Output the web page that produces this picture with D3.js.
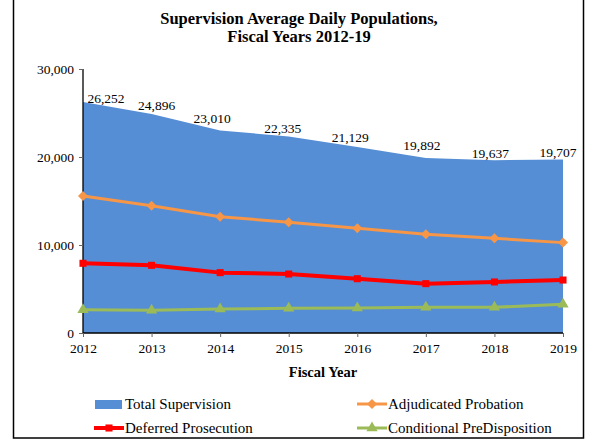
<!DOCTYPE html>
<html><head><meta charset="utf-8">
<script src="https://cdn.jsdelivr.net/npm/d3@7"></script>
<style>body{margin:0;background:#fff}svg{display:block}svg text{font-family:'Liberation Serif','Times New Roman',serif}</style>
</head><body>
<svg id="c" width="589" height="441"></svg>
<script>
const years = [2012, 2013, 2014, 2015, 2016, 2017, 2018, 2019];
const totalSupervision = [26252, 24896, 23010, 22335, 21129, 19892, 19637, 19707];
const adjudicatedProbation = [15570, 14470, 13220, 12580, 11900, 11210, 10760, 10270];
const deferredProsecution = [7920, 7690, 6860, 6700, 6170, 5610, 5800, 6020];
const conditionalPreDisposition = [2650, 2580, 2730, 2800, 2840, 2920, 2920, 3260];
const yTicks = [0, 10000, 20000, 30000];
const titleLines = ["Supervision Average Daily Populations,", "Fiscal Years 2012-19"];

const svg = d3.select("#c");
const font = "'Liberation Serif','Times New Roman',serif";
const x = d3.scaleLinear().domain([2012, 2019]).range([83, 563]);
const y = d3.scaleLinear().domain([0, 30000]).range([333, 69]);

// frame
svg.append("rect").attr("x", 13.5).attr("y", -2).attr("width", 570).attr("height", 440)
  .attr("fill", "none").attr("stroke", "#000").attr("stroke-width", 1.5);

// title
svg.append("text").attr("x", 299).attr("text-anchor", "middle")
  .attr("font-family", font).attr("font-weight", "bold").attr("font-size", 16.5)
  .selectAll("tspan").data(titleLines).join("tspan")
  .attr("x", 299).attr("y", (d, i) => 24 + i * 18).text(d => d);

// area
const area = d3.area().x((d, i) => x(years[i])).y0(y(0)).y1(d => y(d));
svg.append("path").datum(totalSupervision).attr("d", area).attr("fill", "#558ED5");

// axes
const yAxis = svg.append("g").attr("transform", `translate(${x(2012)},0)`)
  .call(d3.axisLeft(y).tickValues(yTicks).tickSize(4).tickPadding(5).tickFormat(d3.format(",")));
const xAxis = svg.append("g").attr("transform", `translate(0,${y(0)})`)
  .call(d3.axisBottom(x).tickValues(years).tickSize(4).tickPadding(6).tickFormat(d3.format("d")));
[yAxis, xAxis].forEach(g => {
  g.attr("font-family", font);
  g.select(".domain").attr("stroke", "#000").attr("stroke-width", 1.3);
  g.selectAll(".tick line").attr("stroke", "#666");
  g.selectAll("text").attr("font-family", font).attr("font-size", 13.5).attr("fill", "#000");
});
yAxis.select(".domain").attr("d", `M0,${y(30000)}V${y(0)}`);
xAxis.select(".domain").attr("d", `M${x(2012)},0H${x(2019)}`);

svg.append("text").attr("x", 323).attr("y", 377).attr("text-anchor", "middle")
  .attr("font-family", font).attr("font-weight", "bold").attr("font-size", 14.5).text("Fiscal Year");

// data labels
const labelDx = [23, 5, -8, -6, -7, -4, -4, -5];
const labelDy = [1, -4, -8, -3, -5, -8, -2, -3];
svg.append("g").selectAll("text").data(totalSupervision).join("text")
  .attr("x", (d, i) => x(years[i]) + labelDx[i])
  .attr("y", (d, i) => y(d) + labelDy[i])
  .attr("text-anchor", "middle").attr("font-family", font).attr("font-size", 13.5)
  .text(d => d3.format(",")(d));

// lines
const line = d3.line().x((d, i) => x(years[i])).y(d => y(d));
const series = [
  {name: "Adjudicated Probation", data: adjudicatedProbation, color: "#F79646", w: 3, marker: "diamond"},
  {name: "Deferred Prosecution", data: deferredProsecution, color: "#FF0000", w: 4, marker: "square"},
  {name: "Conditional PreDisposition", data: conditionalPreDisposition, color: "#9BBB59", w: 3, marker: "triangle"}
];
const symbolFor = m => m === "diamond" ? d3.symbol().type(d3.symbolSquare).size(50)
  : m === "square" ? d3.symbol().type(d3.symbolSquare).size(50)
  : d3.symbol().type(d3.symbolTriangle).size(55);
const rot = m => m === "diamond" ? " rotate(45)" : "";

series.forEach(s => {
  svg.append("path").datum(s.data).attr("d", line).attr("fill", "none")
    .attr("stroke", s.color).attr("stroke-width", s.w).attr("stroke-linejoin", "round");
  svg.append("g").selectAll("path").data(s.data).join("path")
    .attr("d", symbolFor(s.marker))
    .attr("transform", (d, i) => `translate(${x(years[i])},${y(d)})${rot(s.marker)}`)
    .attr("fill", s.color);
});

// legend
const lg = svg.append("g");
lg.append("rect").attr("x", 95).attr("y", 400).attr("width", 27).attr("height", 9).attr("fill", "#558ED5");
lg.append("text").attr("x", 125).attr("y", 409).attr("font-family", font).attr("font-size", 15).text("Total Supervision");
const legendPos = [
  {s: series[0], x: 357, y: 404},
  {s: series[1], x: 94, y: 428},
  {s: series[2], x: 357, y: 428}
];
legendPos.forEach(p => {
  lg.append("line").attr("x1", p.x).attr("x2", p.x + 30).attr("y1", p.y).attr("y2", p.y)
    .attr("stroke", p.s.color).attr("stroke-width", p.s.w);
  lg.append("path").attr("d", symbolFor(p.s.marker)())
    .attr("transform", `translate(${p.x + 15},${p.y})${rot(p.s.marker)}`).attr("fill", p.s.color);
  lg.append("text").attr("x", p.x + 31).attr("y", p.y + 5)
    .attr("font-family", font).attr("font-size", 15).text(p.s.name);
});
</script>
</body></html>
